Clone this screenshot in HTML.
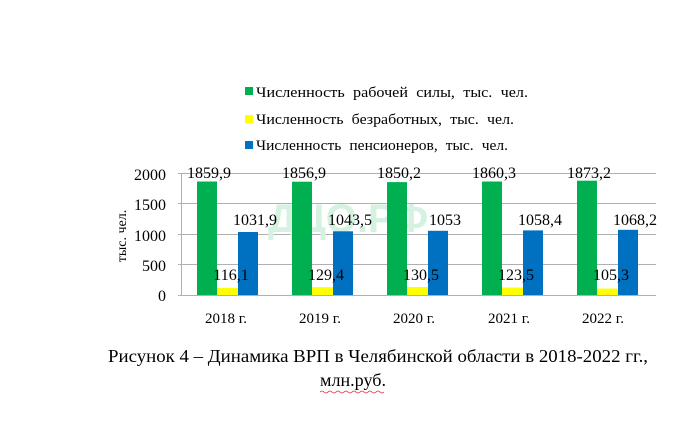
<!DOCTYPE html>
<html><head><meta charset="utf-8"><style>
body{margin:0;background:#fff;}
svg text{font-family:"Liberation Serif",serif;fill:#000;}
</style></head><body>
<svg width="698" height="431" xmlns="http://www.w3.org/2000/svg">
<rect width="698" height="431" fill="#fff"/>
<rect x="245" y="87" width="8" height="8" fill="#00b050"/>
<text x="256" y="97" font-size="15" word-spacing="4" textLength="272" lengthAdjust="spacingAndGlyphs">Численность рабочей  силы, тыс. чел.</text>
<rect x="245" y="115" width="8" height="8" fill="#ffff00"/>
<text x="256" y="124" font-size="15" word-spacing="4" textLength="258" lengthAdjust="spacingAndGlyphs">Численность  безработных,  тыс.  чел.</text>
<rect x="245" y="141" width="8" height="8" fill="#0070c0"/>
<text x="256" y="150" font-size="15" word-spacing="4" textLength="252" lengthAdjust="spacingAndGlyphs">Численность  пенсионеров,  тыс.  чел.</text>
<g stroke="#b0b0b0" stroke-width="1">
<line x1="178" y1="173.5" x2="656" y2="173.5"/>
<line x1="178" y1="203.5" x2="656" y2="203.5"/>
<line x1="178" y1="234.5" x2="656" y2="234.5"/>
<line x1="178" y1="264.5" x2="656" y2="264.5"/>
<line x1="178" y1="295.5" x2="656" y2="295.5"/>
<line x1="181.5" y1="173" x2="181.5" y2="296"/>
</g>
<text x="268" y="232" font-size="40" style="font-family:'Liberation Sans',sans-serif;fill:#d4f2df;font-weight:bold">ДЦО.РФ</text>
<g font-size="16" text-anchor="end">
<text x="166" y="180">2000</text><text x="166" y="210">1500</text><text x="166" y="241">1000</text><text x="166" y="271">500</text><text x="166" y="301">0</text>
</g>
<text transform="translate(126,236) rotate(-90)" font-size="14" text-anchor="middle">тыс. чел.</text>
<g>
<rect x="197" y="181.5" width="20" height="113.5" fill="#00b050"/>
<rect x="217" y="287.9" width="21" height="7.1" fill="#ffff00"/>
<rect x="238" y="232" width="20" height="63" fill="#0070c0"/>
<rect x="292" y="181.7" width="20" height="113.3" fill="#00b050"/>
<rect x="312" y="287.1" width="21" height="7.9" fill="#ffff00"/>
<rect x="333" y="231.3" width="20" height="63.7" fill="#0070c0"/>
<rect x="387" y="182.1" width="20" height="112.9" fill="#00b050"/>
<rect x="407" y="287" width="21" height="8" fill="#ffff00"/>
<rect x="428" y="230.8" width="20" height="64.2" fill="#0070c0"/>
<rect x="482" y="181.5" width="20" height="113.5" fill="#00b050"/>
<rect x="502" y="287.5" width="21" height="7.5" fill="#ffff00"/>
<rect x="523" y="230.4" width="20" height="64.6" fill="#0070c0"/>
<rect x="577" y="180.7" width="20" height="114.3" fill="#00b050"/>
<rect x="597" y="288.6" width="21" height="6.4" fill="#ffff00"/>
<rect x="618" y="229.8" width="20" height="65.2" fill="#0070c0"/>
</g>
<g font-size="16" text-anchor="middle">
<text x="209" y="178">1859,9</text><text x="231" y="280">116,1</text><text x="255" y="225">1031,9</text>
<text x="304" y="178">1856,9</text><text x="326" y="280">129,4</text><text x="350" y="225">1043,5</text>
<text x="399" y="178">1850,2</text><text x="421" y="280">130,5</text><text x="445" y="225">1053</text>
<text x="494" y="178">1860,3</text><text x="516" y="280">123,5</text><text x="540" y="225">1058,4</text>
<text x="589" y="178">1873,2</text><text x="611" y="280">105,3</text><text x="635" y="225">1068,2</text>
</g>
<g font-size="15" text-anchor="middle">
<text x="226" y="323">2018 г.</text><text x="320" y="323">2019 г.</text><text x="414" y="323">2020 г.</text><text x="509" y="323">2021 г.</text><text x="603" y="323">2022 г.</text>
</g>
<text x="108" y="362" font-size="18" textLength="540" lengthAdjust="spacingAndGlyphs">Рисунок 4 – Динамика ВРП в Челябинской области в 2018-2022 гг.,</text>
<text x="320" y="386" font-size="18" textLength="66" lengthAdjust="spacingAndGlyphs">млн.руб.</text>
<path d="M320 392 q2 -2 4 0 t4 0 t4 0 t4 0 t4 0 t4 0 t4 0 t4 0 t4 0 t4 0 t4 0 t4 0 t4 0 t4 0 t4 0 t4 0" stroke="#e03030" stroke-width="0.8" fill="none"/>
</svg>
</body></html>
